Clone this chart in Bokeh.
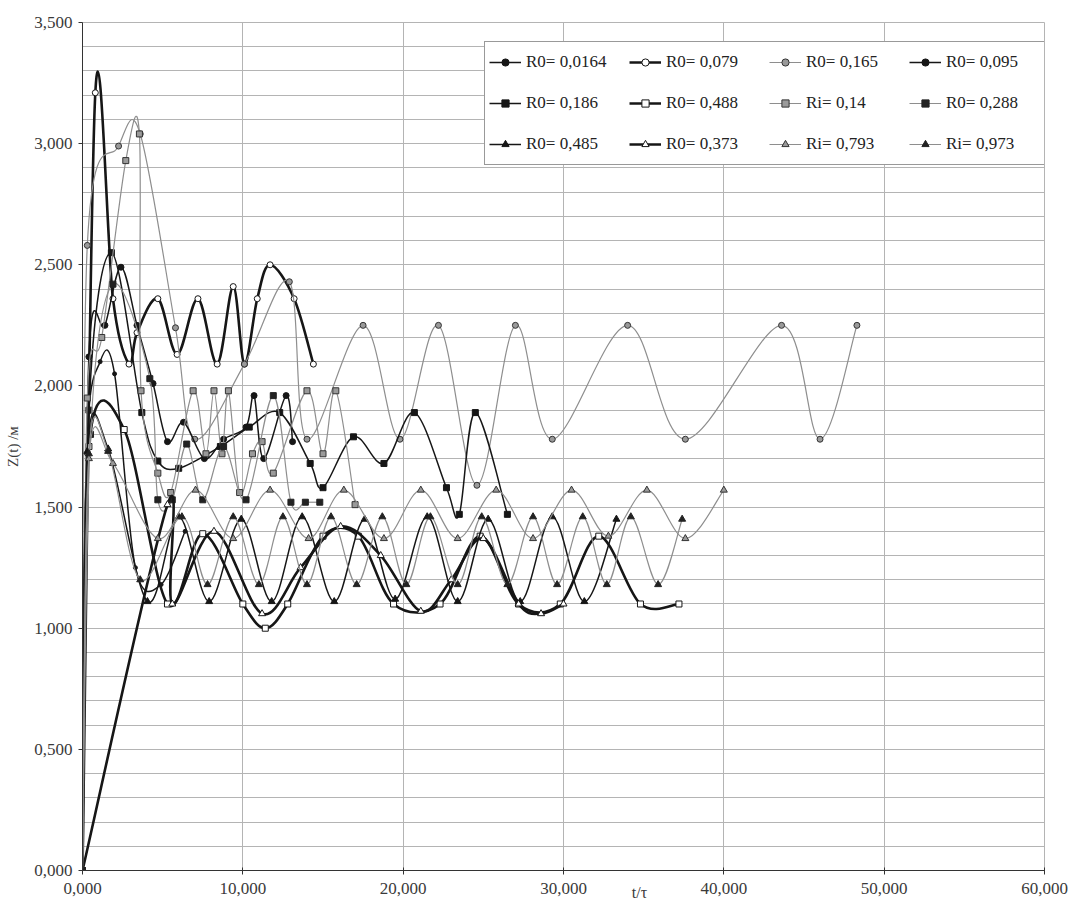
import numpy as np
from bokeh.plotting import figure
from bokeh.models import (Legend, LegendItem, SingleIntervalTicker,
                          CustomJSTickFormatter, Range1d, ColumnDataSource)
from bokeh.embed import file_html
from bokeh.resources import INLINE

# ---------------- data (t/tau, Z(t) in m) ----------------
labels = ["R0= 0,0164", "R0= 0,079", "R0= 0,165", "R0= 0,095",
          "R0= 0,186", "R0= 0,488", "Ri= 0,14", "R0= 0,288",
          "R0= 0,485", "R0= 0,373", "Ri= 0,793", "Ri= 0,973"]

x_0164 = [0, 0.25, 1.1, 2.0, 3.3, 4.9, 6.4]
y_0164 = [0, 1.72, 2.10, 2.05, 1.25, 1.18, 1.40]

x_079 = [0, 0.8, 1.9, 2.9, 3.4, 4.7, 5.9, 7.2, 8.4, 9.4, 10.1, 10.9, 11.7, 13.2, 14.4]
y_079 = [0, 3.21, 2.36, 2.09, 2.22, 2.36, 2.13, 2.36, 2.09, 2.41, 2.09, 2.36, 2.50, 2.36, 2.09]

x_165 = [0, 0.3, 2.25, 3.6, 5.8, 7.0, 10.1, 12.9, 14.0, 17.5, 19.8, 22.2, 24.6, 27.0, 29.3, 34.0, 37.6, 43.6, 46.0, 48.3]
y_165 = [0, 2.58, 2.99, 3.04, 2.24, 1.78, 2.09, 2.43, 1.78, 2.25, 1.78, 2.25, 1.59, 2.25, 1.78, 2.25, 1.78, 2.25, 1.78, 2.25]

x_095 = [0, 0.4, 1.4, 2.4, 3.4, 4.4, 5.3, 6.3, 7.6, 8.8, 10.2, 10.7, 11.3, 12.7, 13.1]
y_095 = [0, 2.12, 2.25, 2.49, 2.25, 2.01, 1.77, 1.85, 1.70, 1.78, 1.83, 1.96, 1.70, 1.96, 1.77]

x_186 = [0, 0.4, 1.8, 3.7, 4.7, 6.0, 8.6, 10.4, 12.3, 14.2, 15.0, 16.9, 18.8, 20.7, 22.7, 23.5, 24.5, 26.5]
y_186 = [0, 1.90, 2.55, 1.89, 1.69, 1.66, 1.75, 1.83, 1.89, 1.68, 1.58, 1.79, 1.68, 1.89, 1.58, 1.47, 1.89, 1.47]

x_488 = [0, 0.4, 2.6, 5.3, 7.5, 10.0, 11.4, 12.8, 15.0, 17.2, 19.4, 22.3, 24.8, 27.2, 29.8, 32.2, 34.8, 37.2]
y_488 = [0, 1.75, 1.82, 1.10, 1.39, 1.10, 1.00, 1.10, 1.38, 1.38, 1.10, 1.10, 1.38, 1.10, 1.10, 1.38, 1.10, 1.10]

x_14 = [0, 0.3, 1.2, 2.7, 3.55, 3.65, 4.7, 5.5, 6.9, 7.7, 8.2, 8.7, 9.1, 9.8, 10.6, 11.2, 11.9, 14.0, 15.0, 15.8, 17.0]
y_14 = [0, 1.95, 2.20, 2.93, 3.04, 1.98, 1.64, 1.56, 1.98, 1.72, 1.98, 1.72, 1.98, 1.56, 1.72, 1.77, 1.64, 1.98, 1.72, 1.98, 1.51]

x_288 = [0, 0.5, 1.9, 4.2, 4.7, 5.6, 6.5, 7.5, 8.8, 10.2, 11.9, 13.0, 13.9, 14.8]
y_288 = [0, 1.80, 2.42, 2.03, 1.53, 1.53, 1.76, 1.53, 1.75, 1.53, 1.96, 1.52, 1.52, 1.52]

x_485 = [0, 0.3, 1.6, 4.05, 6.0, 7.9, 9.9, 11.8, 13.7, 15.7, 17.6, 19.5, 21.5, 23.4, 25.3, 27.3, 29.3, 31.3, 33.3]
y_485 = [0, 1.73, 1.74, 1.11, 1.46, 1.11, 1.45, 1.11, 1.46, 1.11, 1.45, 1.12, 1.46, 1.11, 1.45, 1.11, 1.46, 1.11, 1.45]

x_373 = [0, 5.3, 5.6, 8.2, 11.2, 13.6, 16.1, 18.6, 21.1, 23.0, 25.0, 27.2, 28.6, 30.0]
y_373 = [0, 1.51, 1.10, 1.40, 1.06, 1.25, 1.42, 1.30, 1.07, 1.20, 1.37, 1.10, 1.06, 1.10]

x_793 = [0, 0.4, 1.9, 4.7, 7.05, 9.4, 11.7, 14.1, 16.3, 18.8, 21.1, 23.4, 25.8, 28.1, 30.5, 32.8, 35.2, 37.6, 40.0]
y_793 = [0, 1.70, 1.68, 1.37, 1.57, 1.37, 1.57, 1.37, 1.57, 1.37, 1.57, 1.37, 1.57, 1.37, 1.57, 1.38, 1.57, 1.37, 1.57]

x_973 = [0, 0.4, 1.6, 3.6, 6.2, 7.8, 9.4, 11.0, 12.5, 14.0, 15.5, 17.1, 18.7, 20.2, 21.7, 23.4, 24.9, 26.5, 28.1, 29.6, 31.2, 32.7, 34.2, 35.9, 37.4]
y_973 = [0, 1.72, 1.73, 1.20, 1.46, 1.18, 1.46, 1.18, 1.46, 1.18, 1.46, 1.18, 1.46, 1.18, 1.46, 1.18, 1.46, 1.18, 1.46, 1.18, 1.46, 1.18, 1.46, 1.18, 1.45]

xs = [x_0164, x_079, x_165, x_095, x_186, x_488, x_14, x_288, x_485, x_373, x_793, x_973]
ys = [y_0164, y_079, y_165, y_095, y_186, y_488, y_14, y_288, y_485, y_373, y_793, y_973]

# ---------------- styles ----------------
BLK = "#161616"
GRY = "#8e8e8e"
GFILL = "#9a9a9a"
styles = [
    # line color, line width, marker, marker size, fill, marker line
    (BLK, 1.5, "circle", 4, BLK, BLK),
    (BLK, 2.6, "circle", 6, "white", BLK),
    (GRY, 1.2, "circle", 6, GFILL, "#333333"),
    (BLK, 1.5, "circle", 6, BLK, BLK),
    (BLK, 1.5, "square", 6, BLK, BLK),
    (BLK, 2.6, "square", 6, "white", BLK),
    (GRY, 1.2, "square", 6, GFILL, "#333333"),
    (GRY, 1.2, "square", 6, "#222222", "#222222"),
    (BLK, 1.5, "triangle", 7, BLK, BLK),
    (BLK, 2.6, "triangle", 7, "white", BLK),
    (GRY, 1.2, "triangle", 7, GFILL, "#333333"),
    (GRY, 1.2, "triangle", 7, "#222222", "#222222"),
]

FONT = "Liberation Serif"


def bezier_source(x, y):
    """Smoothed segments between consecutive data points (Excel-like smoothing)."""
    x = np.asarray(x, float)
    y = np.asarray(y, float)
    n = len(x)
    d = dict(x0=[], y0=[], x1=[], y1=[], cx0=[], cy0=[], cx1=[], cy1=[])
    for i in range(n - 1):
        a = max(i - 1, 0)
        b = min(i + 2, n - 1)
        d["x0"].append(x[i]); d["y0"].append(y[i])
        d["x1"].append(x[i + 1]); d["y1"].append(y[i + 1])
        d["cx0"].append(x[i] + (x[i + 1] - x[a]) / 6.0)
        d["cy0"].append(y[i] + (y[i + 1] - y[a]) / 6.0)
        d["cx1"].append(x[i + 1] - (x[b] - x[i]) / 6.0)
        d["cy1"].append(y[i + 1] - (y[b] - y[i]) / 6.0)
    return ColumnDataSource(d)


p = figure(width=1074, height=911, output_backend="svg", toolbar_location=None,
           x_range=Range1d(0, 60), y_range=Range1d(0, 3.5),
           min_border_left=82, min_border_right=30, min_border_top=22,
           min_border_bottom=41)
p.background_fill_color = "white"
p.border_fill_color = "white"
p.outline_line_color = "#b4b4b4"

fmt = CustomJSTickFormatter(code="return tick.toFixed(3).replace('.', ',');")
p.xaxis.ticker = SingleIntervalTicker(interval=10, num_minor_ticks=0)
p.yaxis.ticker = SingleIntervalTicker(interval=0.5, num_minor_ticks=5)
p.xaxis.formatter = fmt
p.yaxis.formatter = fmt

for ax in (p.xaxis, p.yaxis):
    ax.major_label_text_font = FONT
    ax.major_label_text_font_size = "17px"
    ax.major_label_text_color = "#3a3a3a"
    ax.axis_line_color = "#333333"
    ax.major_tick_line_color = "#333333"
    ax.minor_tick_line_color = None
    ax.axis_label_text_font = FONT
    ax.axis_label_text_font_style = "normal"
    ax.axis_label_text_font_size = "15px"
    ax.axis_label_text_color = "#3a3a3a"
p.yaxis.major_tick_in = 0
p.yaxis.major_tick_out = 4
p.xaxis.major_tick_in = 3
p.xaxis.major_tick_out = 4
p.yaxis.major_label_standoff = 6
p.xaxis.major_label_standoff = 8
p.yaxis.axis_label = "Z(t) /м"
p.yaxis.axis_label_standoff = 10
# x-axis title sits to the right of centre, level with the tick labels
p.xaxis.axis_label = "\u00a0" * 38 + "t/τ"
p.xaxis.axis_label_text_font_size = "16px"
p.xaxis.axis_label_standoff = -13

p.xgrid.grid_line_color = "#b4b4b4"
p.ygrid.grid_line_color = "#b4b4b4"
p.ygrid.minor_grid_line_color = "#b4b4b4"

items = []
for lab, x, y, st in zip(labels, xs, ys, styles):
    lc, lw, mk, ms, fc, mlc = st
    br = p.bezier(x0="x0", y0="y0", x1="x1", y1="y1", cx0="cx0", cy0="cy0",
                  cx1="cx1", cy1="cy1", source=bezier_source(x, y),
                  line_color=lc, line_width=lw)
    sr = p.scatter(x=x, y=y, marker=mk, size=ms, fill_color=fc,
                   line_color=mlc, line_width=1)
    items.append(LegendItem(label=lab, renderers=[br, sr]))

legend = Legend(items=items, orientation="horizontal", ncols=4,
                location=(402, 705))
legend.label_text_font = FONT
legend.label_text_font_size = "17px"
legend.label_text_color = "#222222"
legend.glyph_width = 32
legend.glyph_height = 18
legend.label_height = 32
legend.label_width = 94
legend.label_standoff = 5
legend.spacing = 9
legend.padding = 4
legend.margin = 0
legend.border_line_color = "#333333"
legend.border_line_width = 1
legend.background_fill_color = "white"
legend.background_fill_alpha = 1
p.add_layout(legend, "center")

open("out.html", "w").write(file_html(p, INLINE))
